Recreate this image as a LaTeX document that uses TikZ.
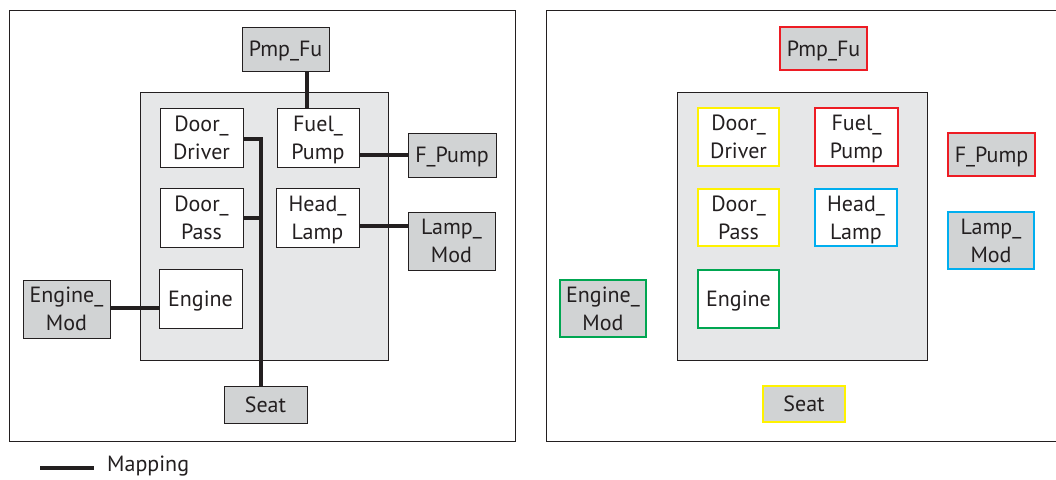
\documentclass[tikz,border=0pt]{standalone}
\usepackage{fontspec}
\setmainfont{PT Sans}
\definecolor{ink}{HTML}{231F20}
\definecolor{modgray}{HTML}{D1D3D4}
\definecolor{ingray}{HTML}{E6E7E8}
\definecolor{cred}{HTML}{ED1C24}
\definecolor{cyel}{HTML}{FFF200}
\definecolor{cblu}{HTML}{00AEEF}
\definecolor{cgrn}{HTML}{00A651}
\tikzset{
  base/.style={draw=ink, line width=1pt, inner sep=0pt, align=center, text=ink,
    text depth=0pt, font=\fontsize{22}{28}\selectfont},
  swc/.style={base, fill=white},
  hwc/.style={base, fill=modgray},
  colb/.style={line width=2.8pt, draw=#1},
  map/.style={draw=ink, line width=3.3pt},
  sz/.style args={#1x#2}{minimum width=#1pt, minimum height=#2pt},
  frame/.style={draw=ink, line width=1pt},
  inner/.style={draw=ink, line width=1pt, fill=ingray}
}
\begin{document}
\begin{tikzpicture}[x=1pt, y=-1pt]
\useasboundingbox (0,0) rectangle (1056,479);
\clip (0,0) rectangle (1056,479);
% ---------- left panel ----------
\draw[frame] (9,10) rectangle (515,441);
\draw[inner] (140,92) rectangle (388,360);
\node[hwc, sz=87x44] (PmpFuL) at (285.5,49) {Pmp\_Fu};
\node[swc, sz=83x59] (DoorDriverL) at (201.5,137.5) {Door\_\\Driver};
\node[swc, sz=82x59] (FuelPumpL) at (318,137.5) {Fuel\_\\Pump};
\node[swc, sz=83x59] (DoorPassL) at (201.5,217.5) {Door\_\\Pass};
\node[swc, sz=83x59] (HeadLampL) at (317.5,217.5) {Head\_\\Lamp};
\node[swc, sz=83x59] (EngineL) at (200.5,298.5) {Engine};
\node[hwc, sz=87x58] (EngineModL) at (66.5,309) {Engine\_\\Mod};
\node[hwc, sz=88x44] (FPumpL) at (452,155) {F\_Pump};
\node[hwc, sz=87x58] (LampModL) at (451.5,241) {Lamp\_\\Mod};
\node[hwc, sz=83x37] (SeatL) at (265.5,404.5) {Seat};
\coordinate (busL) at (261,139);
\draw[map] ([yshift=-1.5pt]DoorDriverL.east) -| (busL |- SeatL.north);
\draw[map] ([yshift=-0.5pt]DoorPassL.east) -- ([yshift=-0.5pt]DoorPassL.east -| busL);
\draw[map] ([xshift=-11pt]FuelPumpL.north) -- ([xshift=-11pt]FuelPumpL.north |- PmpFuL.south);
\draw[map] (FPumpL.west) -- (FPumpL.west -| FuelPumpL.east);
\draw[map] ([yshift=15pt]LampModL.west) -- ([yshift=15pt]LampModL.west -| HeadLampL.east);
\draw[map] ([yshift=1pt]EngineModL.east) -- ([yshift=1pt]EngineModL.east -| EngineL.west);
% legend
\coordinate (legA) at (40,468);
\coordinate (legB) at (94,468);
\draw[map] (legA) -- (legB);
\node[anchor=west, text=ink, inner sep=0pt, font=\fontsize{22}{28}\selectfont] (legT) at (107,466) {Mapping};
% ---------- right panel ----------
\draw[frame] (546,10) rectangle (1060,441);
\draw[inner] (677,92) rectangle (927,360);
\node[hwc, colb=cred, sz=87x43] (PmpFuR) at (823.5,48.5) {Pmp\_Fu};
\node[swc, colb=cyel, sz=81x58] (DoorDriverR) at (738.5,137) {Door\_\\Driver};
\node[swc, colb=cred, sz=83x58] (FuelPumpR) at (856.5,137) {Fuel\_\\Pump};
\node[swc, colb=cyel, sz=81x57] (DoorPassR) at (738.5,217.5) {Door\_\\Pass};
\node[swc, colb=cblu, sz=82x57] (HeadLampR) at (856,217.5) {Head\_\\Lamp};
\node[swc, colb=cgrn, sz=81x58] (EngineR) at (738.5,299) {Engine};
\node[hwc, colb=cgrn, sz=86x57] (EngineModR) at (603,308.5) {Engine\_\\Mod};
\node[hwc, colb=cred, sz=87x43] (FPumpR) at (991.5,154.5) {F\_Pump};
\node[hwc, colb=cblu, sz=86x57] (LampModR) at (991,240.5) {Lamp\_\\Mod};
\node[hwc, colb=cyel, sz=82x36] (SeatR) at (804,404) {Seat};
\end{tikzpicture}
\end{document}
